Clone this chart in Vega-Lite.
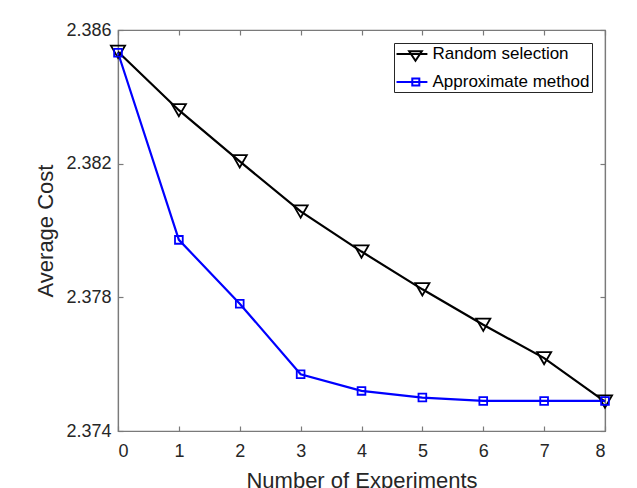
{
  "$schema": "https://vega.github.io/schema/vega-lite/v6.json",
  "width": 487,
  "height": 401,
  "autosize": {"type": "none"},
  "padding": {"left": 118, "top": 30, "right": 32, "bottom": 57},
  "background": "white",
  "config": {
    "view": {"stroke": "#7a7a7a", "strokeWidth": 1.2},
    "font": "Liberation Sans",
    "axis": {
      "grid": false,
      "labelFont": "Liberation Sans",
      "labelFontSize": 18,
      "labelColor": "#262626",
      "titleFont": "Liberation Sans",
      "titleFontSize": 22,
      "titleFontWeight": "normal",
      "titleColor": "#262626",
      "domainColor": "#7a7a7a",
      "domainWidth": 1.2,
      "tickColor": "#7a7a7a",
      "tickWidth": 1.2,
      "tickSize": -5
    },
    "legend": {
      "orient": "top-right",
      "offset": 13,
      "padding": 2,
      "strokeColor": "#262626",
      "fillColor": "white",
      "labelFont": "Liberation Sans",
      "labelFontSize": 17,
      "labelColor": "#000000",
      "labelOffset": 18.5,
      "rowPadding": 8,
      "symbolSize": 256,
      "symbolStrokeWidth": 2,
      "symbolOpacity": 1
    }
  },
  "data": {
    "values": [
      {"x": 0, "y": 2.38535, "series": "Random selection"},
      {"x": 1, "y": 2.38360, "series": "Random selection"},
      {"x": 2, "y": 2.38207, "series": "Random selection"},
      {"x": 3, "y": 2.38057, "series": "Random selection"},
      {"x": 4, "y": 2.37937, "series": "Random selection"},
      {"x": 5, "y": 2.37824, "series": "Random selection"},
      {"x": 6, "y": 2.37718, "series": "Random selection"},
      {"x": 7, "y": 2.37618, "series": "Random selection"},
      {"x": 8, "y": 2.37488, "series": "Random selection"},
      {"x": 0, "y": 2.38532, "series": "Approximate method"},
      {"x": 1, "y": 2.37972, "series": "Approximate method"},
      {"x": 2, "y": 2.37781, "series": "Approximate method"},
      {"x": 3, "y": 2.37570, "series": "Approximate method"},
      {"x": 4, "y": 2.37520, "series": "Approximate method"},
      {"x": 5, "y": 2.37500, "series": "Approximate method"},
      {"x": 6, "y": 2.37490, "series": "Approximate method"},
      {"x": 7, "y": 2.37490, "series": "Approximate method"},
      {"x": 8, "y": 2.37490, "series": "Approximate method"}
    ]
  },
  "resolve": {"axis": {"x": "independent", "y": "independent"}, "scale": {"shape": "independent", "color": "independent"}},
  "layer": [
    {
      "mark": {"type": "line", "strokeWidth": 2.2},
      "encoding": {
        "x": {
          "field": "x", "type": "quantitative",
          "scale": {"domain": [0, 8], "nice": false, "zero": false},
          "axis": {"orient": "bottom", "values": [0,1,2,3,4,5,6,7,8], "title": "Number of Experiments", "labelPadding": 16, "titlePadding": 10}
        },
        "y": {
          "field": "y", "type": "quantitative",
          "scale": {"domain": [2.374, 2.386], "nice": false, "zero": false},
          "axis": {"orient": "left", "values": [2.374, 2.378, 2.382, 2.386], "format": ".3f", "title": "Average Cost", "labelPadding": 12, "titlePadding": 8}
        },
        "color": {
          "field": "series", "type": "nominal",
          "scale": {"domain": ["Random selection", "Approximate method"], "range": ["#000000", "#0000ff"]},
          "legend": null
        }
      }
    },
    {
      "mark": {"type": "point", "filled": false, "strokeWidth": 1.8, "opacity": 1},
      "encoding": {
        "x": {
          "field": "x", "type": "quantitative",
          "axis": {"orient": "top", "values": [0,1,2,3,4,5,6,7,8], "labels": false, "title": null}
        },
        "y": {
          "field": "y", "type": "quantitative",
          "axis": {"orient": "right", "values": [2.374, 2.378, 2.382, 2.386], "labels": false, "title": null}
        },
        "stroke": {
          "field": "series", "type": "nominal",
          "scale": {"domain": ["Random selection", "Approximate method"], "range": ["#000000", "#0000ff"]},
          "legend": null
        },
        "shape": {
          "field": "series", "type": "nominal",
          "scale": {"domain": ["Random selection", "Approximate method"], "range": ["triangle-down", "square"]},
          "legend": null
        },
        "size": {
          "field": "series", "type": "nominal",
          "scale": {"domain": ["Random selection", "Approximate method"], "range": [200, 60]},
          "legend": null
        }
      }
    },
    {
      "transform": [{"filter": "datum.x < 0"}],
      "mark": {"type": "point", "filled": false, "strokeWidth": 2, "opacity": 1, "size": 256},
      "encoding": {
        "x": {"field": "x", "type": "quantitative", "axis": null},
        "y": {"field": "y", "type": "quantitative", "axis": null},
        "color": {
          "field": "series", "type": "nominal",
          "scale": {"domain": ["Random selection", "Approximate method"], "range": ["#000000", "#0000ff"]},
          "legend": {"title": null}
        },
        "shape": {
          "field": "series", "type": "nominal",
          "scale": {"domain": ["Random selection", "Approximate method"], "range": ["M-1.06,0H2.8M0.52,-0.33H2.1L1.31,0.84Z", "M-1.06,0H2.8M0.91,-0.44H1.79V0.44H0.91Z"]},
          "legend": {"title": null}
        }
      }
    }
  ]
}
